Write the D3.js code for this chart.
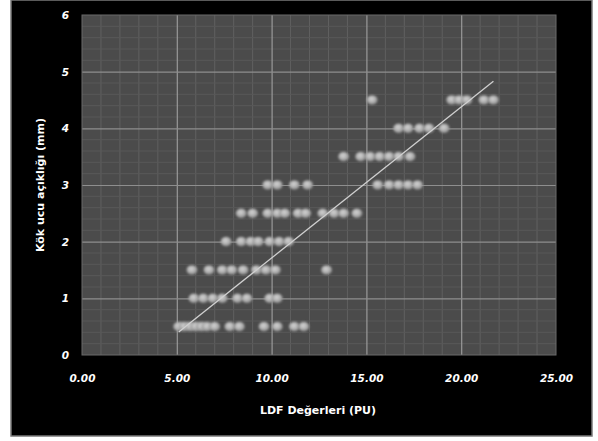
<!DOCTYPE html>
<html>
<head>
<meta charset="utf-8">
<script src="https://cdn.jsdelivr.net/npm/d3@7"></script>
<style>
  html, body { margin: 0; padding: 0; background: #ffffff; }
  svg { display: block; }
</style>
</head>
<body>
<svg id="chart" width="598" height="441"></svg>
<script>
// ---- data ----
const xTickValues = [0, 5, 10, 15, 20, 25];
const yTickValues = [0, 1, 2, 3, 4, 5, 6];
const xTitle = "LDF Değerleri (PU)";
const yTitle = "Kök ucu açıklığı (mm)";

// LDF values grouped by root apex opening (mm)
const rowLevels = [0.5, 1, 1.5, 2, 2.5, 3, 3.5, 4, 4.5];
const ldf_05 = [5.1, 5.4, 5.7, 6.0, 6.3, 6.6, 7.0, 7.8, 8.3, 9.6, 10.3, 11.2, 11.7];
const ldf_10 = [5.9, 6.4, 6.9, 7.4, 8.2, 8.7, 9.9, 10.3];
const ldf_15 = [5.8, 6.7, 7.4, 7.9, 8.5, 9.2, 9.7, 10.2, 12.9];
const ldf_20 = [7.6, 8.4, 8.9, 9.3, 9.9, 10.4, 10.9];
const ldf_25 = [8.4, 9.0, 9.8, 10.3, 10.7, 11.4, 11.8, 12.7, 13.3, 13.8, 14.5];
const ldf_30 = [9.8, 10.3, 11.2, 11.9, 15.6, 16.2, 16.7, 17.2, 17.7];
const ldf_35 = [13.8, 14.7, 15.2, 15.7, 16.2, 16.7, 17.3];
const ldf_40 = [16.7, 17.2, 17.8, 18.3, 19.1];
const ldf_45 = [15.3, 19.5, 19.9, 20.3, 21.2, 21.7];
const rows = [ldf_05, ldf_10, ldf_15, ldf_20, ldf_25, ldf_30, ldf_35, ldf_40, ldf_45];

// linear trend line: y = slope * x + intercept
const trendSlope = 0.2665;
const trendIntercept = -0.953;

const points = [];
rows.forEach((arr, i) => arr.forEach(v => points.push({x: v, y: rowLevels[i]})));

// ---- layout ----
const svg = d3.select("#chart");
const plot = {left: 82, right: 556, top: 15, bottom: 355};

// black frame background
svg.append("rect").attr("x", 11).attr("y", 0).attr("width", 581).attr("height", 436)
  .attr("fill", "#000000").attr("stroke", "#7a7a7a").attr("stroke-width", 1.5);

const x = d3.scaleLinear().domain([0, 25]).range([plot.left, plot.right]);
const y = d3.scaleLinear().domain([0, 6]).range([plot.bottom, plot.top]);

const defs = svg.append("defs");
const blur = defs.append("filter").attr("id", "soft").attr("x", "-50%").attr("y", "-50%")
  .attr("width", "200%").attr("height", "200%");
blur.append("feGaussianBlur").attr("stdDeviation", 1.2);
const grad = defs.append("radialGradient").attr("id", "dot").attr("cx", "45%").attr("cy", "40%").attr("r", "60%");
grad.append("stop").attr("offset", "0%").attr("stop-color", "#d6d6d6");
grad.append("stop").attr("offset", "65%").attr("stop-color", "#a8a8a8");
grad.append("stop").attr("offset", "100%").attr("stop-color", "#808080");

// plot background
svg.append("rect").attr("x", plot.left).attr("y", plot.top)
  .attr("width", plot.right - plot.left).attr("height", plot.bottom - plot.top)
  .attr("fill", "#4b4b4b");

// minor grid
const g = svg.append("g");
g.append("g").selectAll("line").data(d3.range(1, 25, 1).filter(v => v % 5 !== 0)).join("line")
  .attr("x1", d => x(d)).attr("x2", d => x(d)).attr("y1", plot.top).attr("y2", plot.bottom)
  .attr("stroke", "#606060").attr("stroke-width", 1);
g.append("g").selectAll("line").data(d3.range(1, 30, 1).map(v => v / 5).filter(v => Math.abs(v - Math.round(v)) > 1e-6)).join("line")
  .attr("x1", plot.left).attr("x2", plot.right).attr("y1", d => y(d)).attr("y2", d => y(d))
  .attr("stroke", "#585858").attr("stroke-width", 1);

// major grid (via axes)
svg.append("g").attr("transform", `translate(0,${plot.bottom})`)
  .call(d3.axisBottom(x).tickValues([5, 10, 15, 20]).tickSize(-(plot.bottom - plot.top)).tickFormat(""))
  .call(a => a.select(".domain").remove())
  .call(a => a.selectAll("line").attr("stroke", "#9a9a9a").attr("stroke-width", 1.2));
svg.append("g").attr("transform", `translate(${plot.left},0)`)
  .call(d3.axisLeft(y).tickValues([1, 2, 3, 4, 5]).tickSize(-(plot.right - plot.left)).tickFormat(""))
  .call(a => a.select(".domain").remove())
  .call(a => a.selectAll("line").attr("stroke", "#8e8e8e").attr("stroke-width", 1.2));

// plot edge
svg.append("rect").attr("x", plot.left).attr("y", plot.top)
  .attr("width", plot.right - plot.left).attr("height", plot.bottom - plot.top)
  .attr("fill", "none").attr("stroke", "#6a6a6a").attr("stroke-width", 1);

// tick labels
const xAxis = svg.append("g").attr("transform", `translate(0,${plot.bottom})`)
  .call(d3.axisBottom(x).tickValues(xTickValues).tickSize(0).tickPadding(20).tickFormat(d3.format(".2f")));
xAxis.select(".domain").remove();
xAxis.selectAll("text").attr("fill", "#ffffff").attr("font-family", "DejaVu Sans")
  .attr("font-size", 10.5).attr("font-weight", "bold").attr("font-style", "italic");

const yAxis = svg.append("g").attr("transform", `translate(${plot.left},0)`)
  .call(d3.axisLeft(y).tickValues(yTickValues).tickSize(0).tickPadding(13).tickFormat(d3.format("d")));
yAxis.select(".domain").remove();
yAxis.selectAll("text").attr("fill", "#ffffff").attr("font-family", "DejaVu Sans")
  .attr("font-size", 10.5).attr("font-weight", "bold").attr("font-style", "italic");

// axis titles
svg.append("text").attr("x", 318).attr("y", 414).attr("text-anchor", "middle")
  .attr("fill", "#ffffff").attr("font-family", "DejaVu Sans").attr("font-size", 11).attr("font-weight", "bold")
  .text(xTitle);
svg.append("text").attr("transform", `translate(44,${(plot.top + plot.bottom) / 2}) rotate(-90)`)
  .attr("text-anchor", "middle")
  .attr("fill", "#ffffff").attr("font-family", "DejaVu Sans").attr("font-size", 11).attr("font-weight", "bold")
  .text(yTitle);

// points
svg.append("g").selectAll("ellipse").data(points).join("ellipse")
  .attr("cx", d => x(d.x)).attr("cy", d => y(d.y)).attr("rx", 5.5).attr("ry", 4.8)
  .attr("fill", "url(#dot)").attr("filter", "url(#soft)");

// trend line
const xs = d3.extent(points, d => d.x);
svg.append("line")
  .attr("x1", x(xs[0])).attr("y1", y(trendSlope * xs[0] + trendIntercept))
  .attr("x2", x(xs[1])).attr("y2", y(trendSlope * xs[1] + trendIntercept))
  .attr("stroke", "#d0d0d0").attr("stroke-width", 1.3);
</script>
</body>
</html>
